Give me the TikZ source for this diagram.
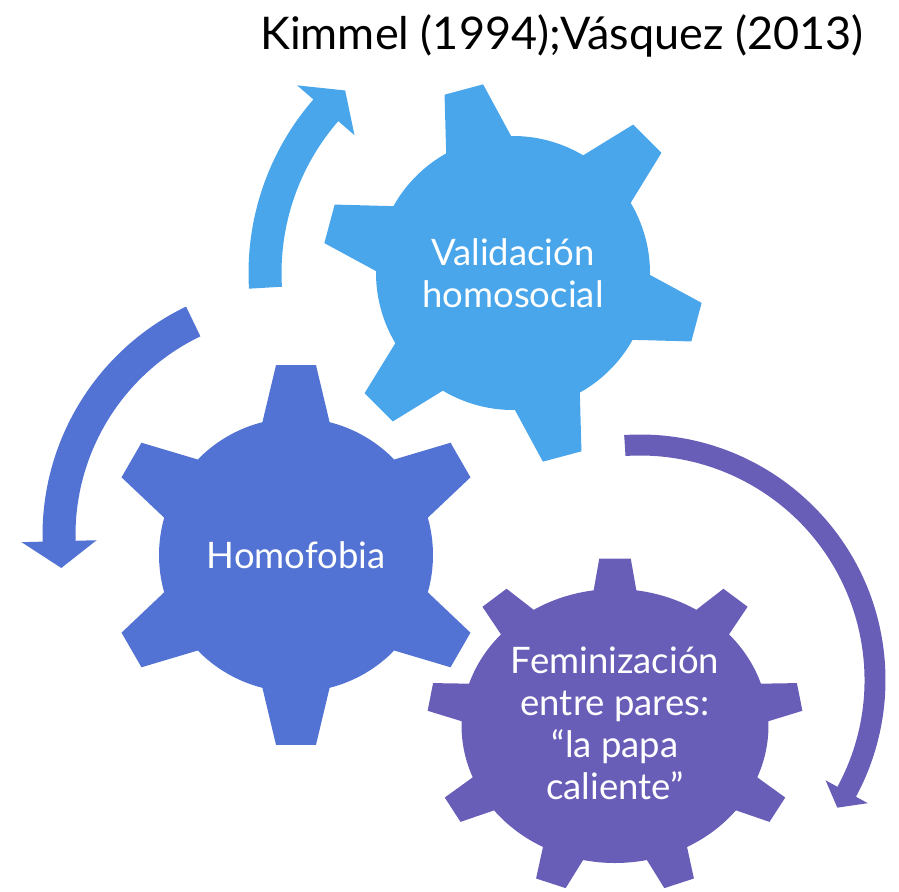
\documentclass[tikz,border=0pt]{standalone}
\usepackage{fontspec}
\setmainfont{Lato}
\usepackage{tikz}

\definecolor{gearsky}{HTML}{49A6EB}
\definecolor{gearblue}{HTML}{5273D3}
\definecolor{gearviolet}{HTML}{685EB8}

\begin{document}
\begin{tikzpicture}[x=1pt,y=1pt,
  geartext/.style={text=white,align=center,font=\fontsize{36.5}{42}\selectfont},
  reftext/.style={text=black,font=\fontsize{45}{50}\selectfont}]
\useasboundingbox (0,0) rectangle (899,-891);
\pgfmathsetmacro\bodyr{137}
\pgfmathsetmacro\tipr{191}
\pgfmathsetmacro\baseang{14.2}
\pgfmathsetmacro\tipang{6}

\coordinate (g1) at (513,-273);
\coordinate (g2) at (296,-555);
\coordinate (g3) at (615,-726);
\coordinate (a2) at (296,-535);
\coordinate (a3) at (640,-680);

% six-tooth gears
\fill[gearsky,shift={(g1)}] (105-\baseang:\bodyr)
  \foreach \k [evaluate=\k as \a using 105+60*\k] in {0,...,5} {
    -- (\a-\baseang:\bodyr) -- (\a-\tipang:\tipr) -- (\a+\tipang:\tipr) -- (\a+\baseang:\bodyr)
    arc[start angle=\a+\baseang, end angle=\a+60-\baseang, radius=\bodyr]
  } -- cycle;
\fill[gearblue,shift={(g2)}] (90-\baseang:\bodyr)
  \foreach \k [evaluate=\k as \a using 90+60*\k] in {0,...,5} {
    -- (\a-\baseang:\bodyr) -- (\a-\tipang:\tipr) -- (\a+\tipang:\tipr) -- (\a+\baseang:\bodyr)
    arc[start angle=\a+\baseang, end angle=\a+60-\baseang, radius=\bodyr]
  } -- cycle;
% nine teeth, a bit wider than high
\fill[gearviolet,shift={(g3)},xscale=1.12] (82:137)
  \foreach \k [evaluate=\k as \a using 90+40*\k] in {0,...,8} {
    -- (\a-8:137) -- (\a-4.8:168) -- (\a+4.8:168) -- (\a+8:137)
    arc[start angle=\a+8, end angle=\a+32, radius=137]
  } -- cycle;

% circular arrows
\foreach \cen/\col/\ta/\hb/\ha/\rmid/\hw/\hh in
  {g1/gearsky/183.4/139/132.6/248/16.5/38,
   a2/gearblue/115.7/181.5/188/237/16.5/37.5,
   a3/gearviolet/93.7/-28.4/-32.9/235/10.5/24} {
  \fill[\col,shift={(\cen)}] (\ta:\rmid+\hw)
    arc[start angle=\ta, end angle=\hb, radius=\rmid+\hw]
    -- (\hb:\rmid+\hh) -- (\ha:\rmid) -- (\hb:\rmid-\hh) -- (\hb:\rmid-\hw)
    arc[start angle=\hb, end angle=\ta, radius=\rmid-\hw] -- cycle;
}

\node[geartext] (valid) at (g1) {Validación\\homosocial};
\node[geartext] (homo) at (g2) {Homofobia};
\node[geartext] (femi) at (615,-723) {Feminización\\entre pares:\\“la papa\\caliente”};
\node[reftext] (refs) at (562,-36) {Kimmel (1994);Vásquez (2013)};
\end{tikzpicture}
\end{document}
